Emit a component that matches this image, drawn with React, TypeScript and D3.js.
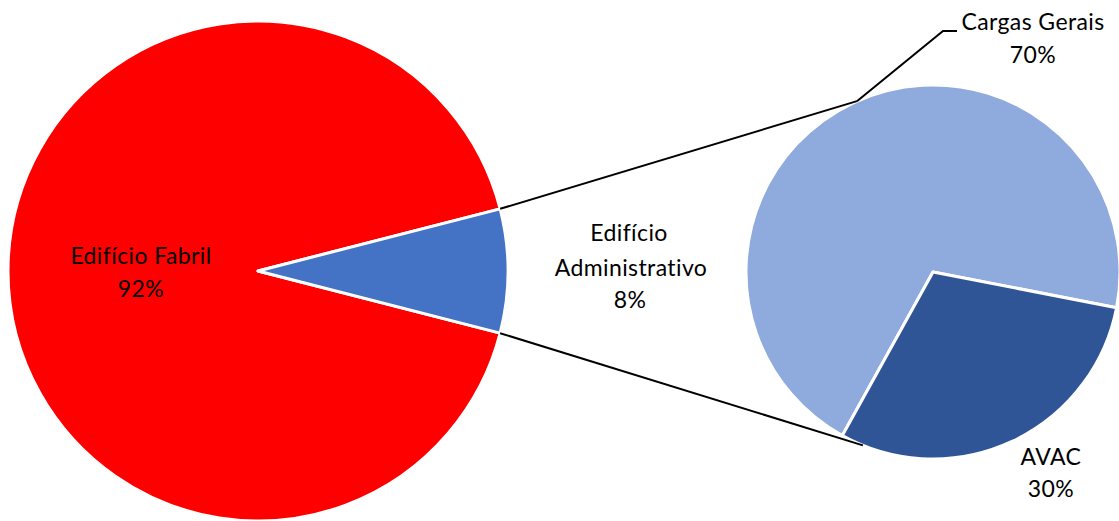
import React from "react";
import * as d3 from "d3";

const mainCategories = ["Edifício Fabril", "Edifício Administrativo"];
const mainValues = [92, 8];
const mainColors = ["#FF0000", "#4472C4"];

const subCategories = ["Cargas Gerais", "AVAC"];
const subValues = [70, 30];
const subColors = ["#8FAADC", "#2F5597"];

const W = 1119;
const H = 521;
const FONT = "Lato, 'Open Sans', sans-serif";
const FS = 23;

export default function App() {
  const c1 = { x: 258, y: 271 };
  const r1 = 250;
  const c2 = { x: 933, y: 272 };
  const r2 = 187;

  const smallSpan = (mainValues[1] / d3.sum(mainValues)) * 2 * Math.PI;
  const mainPie = d3
    .pie<number>()
    .sort(null)
    .startAngle(Math.PI / 2 + smallSpan / 2)
    .endAngle(Math.PI / 2 + smallSpan / 2 + 2 * Math.PI);
  const mainArcs = mainPie(mainValues);
  const arc1 = d3.arc<d3.PieArcDatum<number>>().innerRadius(0).outerRadius(r1);

  const avacSpan = (subValues[1] / d3.sum(subValues)) * 2 * Math.PI;
  const avacMid = ((65 + 90) * Math.PI) / 180;
  const subStart = avacMid + avacSpan / 2;
  const subPie = d3.pie<number>().sort(null).startAngle(subStart).endAngle(subStart + 2 * Math.PI);
  const subArcs = subPie(subValues);
  const arc2 = d3.arc<d3.PieArcDatum<number>>().innerRadius(0).outerRadius(r2);

  const pt = (c: { x: number; y: number }, r: number, screenDeg: number) => {
    const a = (screenDeg * Math.PI) / 180;
    return [c.x + r * Math.cos(a), c.y + r * Math.sin(a)];
  };
  const halfDeg = (smallSpan / 2) * (180 / Math.PI);
  const m1Top = pt(c1, r1, -halfDeg);
  const m1Bot = pt(c1, r1, halfDeg);
  const s2Top = pt(c2, r2, -114);
  const s2Bot = pt(c2, r2, 112);

  const textStyle: React.CSSProperties = {
    fontFamily: FONT,
    fontSize: FS,
    fill: "#000",
    letterSpacing: "0.4px",
  };

  return (
    <svg width={W} height={H} style={{ position: "absolute", left: 0, top: 0 }}>
      <rect width={W} height={H} fill="#fff" />
      <g transform={`translate(${c1.x},${c1.y})`}>
        {mainArcs.map((a, i) => (
          <path key={i} d={arc1(a) || ""} fill={mainColors[i]} stroke="#fff" strokeWidth={3} strokeLinejoin="round" />
        ))}
      </g>
      <g transform={`translate(${c2.x},${c2.y})`}>
        {subArcs.map((a, i) => (
          <path key={i} d={arc2(a) || ""} fill={subColors[i]} stroke="#fff" strokeWidth={3} strokeLinejoin="round" />
        ))}
      </g>
      <line x1={m1Top[0]} y1={m1Top[1]} x2={s2Top[0]} y2={s2Top[1]} stroke="#000" strokeWidth={2} />
      <line x1={m1Bot[0]} y1={m1Bot[1]} x2={s2Bot[0]} y2={s2Bot[1]} stroke="#000" strokeWidth={2} />
      <polyline
        points={`${s2Top[0]},${s2Top[1]} 943,31 957,31`}
        fill="none"
        stroke="#000"
        strokeWidth={2}
      />
      <g style={textStyle} textAnchor="middle">
        <text x={141} y={264}>{mainCategories[0]}</text>
        <text x={141} y={297}>{mainValues[0]}%</text>
        <text x={629} y={241}>Edifício</text>
        <text x={631} y={276}>Administrativo</text>
        <text x={630} y={308}>{mainValues[1]}%</text>
        <text x={1033} y={30}>{subCategories[0]}</text>
        <text x={1033} y={63}>{subValues[0]}%</text>
        <text x={1051} y={465}>{subCategories[1]}</text>
        <text x={1051} y={497}>{subValues[1]}%</text>
      </g>
    </svg>
  );
}
